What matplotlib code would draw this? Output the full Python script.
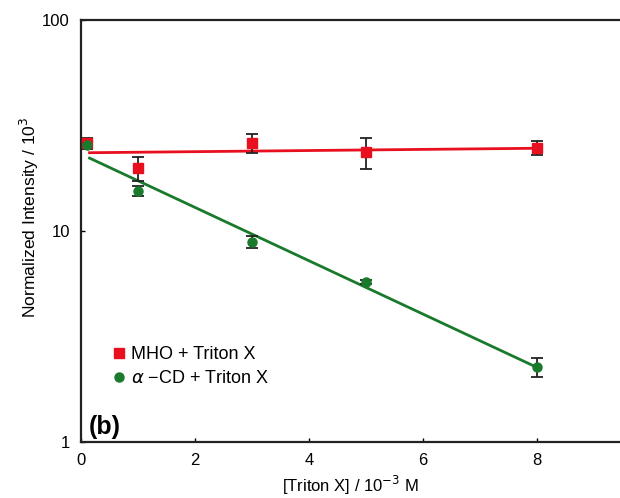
#! /usr/bin/env python3

import numpy as np
import matplotlib
matplotlib.use("Agg")
import matplotlib.pyplot as plt

plt.rcParams['font.family'] = ['Liberation Sans', 'DejaVu Sans']

# data
triton = [0.1, 1, 3, 5, 8]
mho = [26.1, 19.9, 26.1, 23.7, 24.7]
mho_err = [1.6, 2.6, 2.6, 4.0, 1.9]
acd = [25.6, 15.5, 8.87, 5.73, 2.27]
acd_err = [1.0, 0.9, 0.55, 0.1, 0.23]

red = '#e8101e'
green = '#1a7a2c'

fig = plt.figure(figsize=(6.2, 4.98), dpi=100)
ax = fig.add_axes([0.1306, 0.1124, 0.8694, 0.8474])

# exponential fits (straight lines on log axis)
xfit = np.linspace(0.15, 8, 50)
p_mho = np.polyfit(triton, np.log10(mho), 1)
p_acd = np.polyfit(triton, np.log10(acd), 1)
ax.plot(xfit, 10**np.polyval(p_mho, xfit), '-', color=red, lw=2, zorder=2)
ax.plot(xfit, 10**np.polyval(p_acd, xfit), '-', color=green, lw=2, zorder=2)

ax.errorbar(triton, mho, yerr=mho_err, fmt='none', ecolor='#222222',
            elinewidth=1.3, capsize=4, capthick=1.3, zorder=3)
ax.errorbar(triton, acd, yerr=acd_err, fmt='none', ecolor='#222222',
            elinewidth=1.3, capsize=4, capthick=1.3, zorder=3)
ax.plot(triton, mho, 's', color=red, ms=7, zorder=4, label='MHO + Triton X')
ax.plot(triton, acd, 'o', color=green, ms=6.5, zorder=4,
        label=r'$\alpha$' + ' \u2212CD + Triton X')

ax.set_yscale('log')
ax.set_ylim(1, 100)
ax.set_xlim(0, 9.45)
ax.set_yticks([1, 10, 100])
ax.set_yticklabels(['1', '10', '100'])
ax.yaxis.set_minor_locator(matplotlib.ticker.NullLocator())
ax.set_xticks([0, 2, 4, 6, 8])
ax.tick_params(direction='in', length=3, width=1, labelsize=12)
ax.tick_params(axis='y', pad=8)
ax.tick_params(axis='x', pad=8)

ax.spines['right'].set_visible(False)
for s in ['left', 'bottom', 'top']:
    ax.spines[s].set_linewidth(1.6)
    ax.spines[s].set_color('#222222')

ax.set_xlabel('[Triton X] / 10$^{-3}$ M', fontsize=12, labelpad=4)
ax.set_ylabel('Normalized Intensity / 10$^3$', fontsize=12.6)
ax.yaxis.set_label_coords(-0.074, 0.533)

ax.legend(loc='upper left', bbox_to_anchor=(0.045, 0.245), frameon=False,
          fontsize=13, handlelength=0.7, handletextpad=0.35, labelspacing=0.4,
          borderaxespad=0)

ax.text(0.015, 0.02, '(b)', transform=ax.transAxes, fontsize=18,
        fontweight='bold')

fig.savefig('out.png', dpi=100)
